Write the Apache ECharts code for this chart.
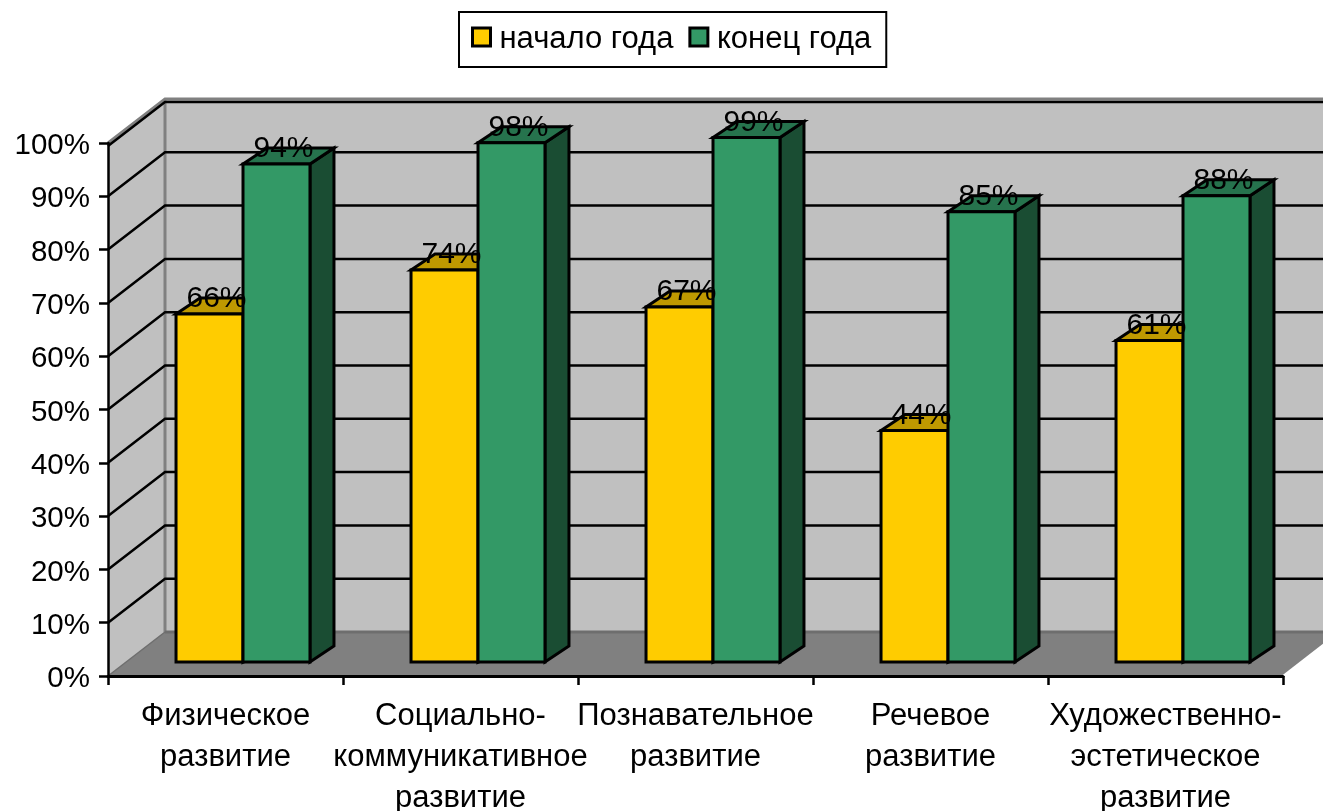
<!DOCTYPE html>
<html>
<head>
    <meta charset="utf-8">
    <title>ECharts</title>
    <script src="https://cdn.jsdelivr.net/npm/echarts/dist/echarts.min.js"></script>
    <style>html, body { margin: 0; padding: 0; background: #fff; }</style>
</head>
<body>
    <div id="main" style="width: 1323px;height:811px;"></div>
    <script>
        var categories = ['Физическое\nразвитие', 'Социально-\nкоммуникативное\nразвитие', 'Познавательное\nразвитие', 'Речевое\nразвитие', 'Художественно-\nэстетическое\nразвитие'];
        var startValues = [65.7, 74, 67, 43.7, 60.7];
        var endValues = [94, 98, 99, 85, 88];
        var yTicks = [0, 10, 20, 30, 40, 50, 60, 70, 80, 90, 100];

        var FONT = '"Liberation Sans", Arial, sans-serif';
        var WALL_DX = 57, WALL_DY = -44;   // depth of the chart box
        var BAR_DX = 24, BAR_DY = -16;     // depth of a bar
        var BAR_BASE = -14;                // bars stand on the floor, behind the axis
        var BAR_SHIFT = 17.5;
        var BAR_SCALE = 0.994;

        var chartDom = document.getElementById('main');
        var myChart = echarts.init(chartDom);
        var option;

        function poly(points, fill, stroke, width) {
            return {
                type: 'polygon',
                shape: { points: points },
                style: { fill: fill, stroke: stroke || null, lineWidth: width || 0, lineJoin: 'miter' }
            };
        }

        // wall and floor of the box
        function renderBox(params, api) {
            var cs = params.coordSys;
            var x0 = cs.x, x1 = cs.x + cs.width;
            var top = api.coord([0, 100])[1], bottom = api.coord([0, 0])[1];
            var bx = x0 + WALL_DX, right = x1 + WALL_DX;
            var border = '#808080';
            return {
                type: 'group',
                children: [
                    poly([[bx, top + WALL_DY], [right, top + WALL_DY], [right, bottom + WALL_DY], [bx, bottom + WALL_DY]], '#c0c0c0'),
                    poly([[x0, top], [bx, top + WALL_DY], [bx, bottom + WALL_DY], [x0, bottom]], '#c0c0c0'),
                    poly([[x0, bottom], [bx, bottom + WALL_DY], [right, bottom + WALL_DY], [x1, bottom]], '#808080'),
                    { type: 'polyline', shape: { points: [[x0, top], [bx, top + WALL_DY], [right, top + WALL_DY]] }, style: { fill: null, stroke: border, lineWidth: 3 } },
                    { type: 'line', shape: { x1: bx, y1: top + WALL_DY, x2: bx, y2: bottom + WALL_DY }, style: { stroke: border, lineWidth: 3 } },
                    { type: 'line', shape: { x1: bx, y1: bottom + WALL_DY, x2: right, y2: bottom + WALL_DY }, style: { stroke: '#6e6e6e', lineWidth: 3 } },
                    { type: 'line', shape: { x1: x0, y1: bottom, x2: bx, y2: bottom + WALL_DY }, style: { stroke: '#6e6e6e', lineWidth: 1.5 } },
                    { type: 'line', shape: { x1: x1, y1: bottom, x2: right, y2: bottom + WALL_DY }, style: { stroke: '#fff', lineWidth: 2 } }
                ]
            };
        }

        // grid lines run along the side wall and then the back wall
        function renderGridLine(params, api) {
            var cs = params.coordSys;
            var tick = api.value(0);
            var y = api.coord([0, tick])[1];
            if (tick === 0) {
                return { type: 'group', children: [] };
            }
            var nudge = tick === 100 ? 3 : 0;   // top line sits just under the grey edge
            return {
                type: 'polyline',
                shape: { points: [[cs.x, y + nudge], [cs.x + WALL_DX, y + WALL_DY + nudge], [cs.x + cs.width + WALL_DX, y + WALL_DY + nudge]] },
                style: { fill: null, stroke: '#000', lineWidth: 2.5 }
            };
        }

        function barTop(api, idx, val) {
            var base = api.coord([idx, 0]);
            var p = api.coord([idx, val]);
            return {
                cx: base[0] + BAR_SHIFT,
                bottom: base[1] + BAR_BASE,
                top: base[1] + BAR_BASE - (base[1] - p[1]) * BAR_SCALE
            };
        }

        function makeBar(side, front, topFace, sideFace) {
            return function (params, api) {
                var idx = api.value(0);
                var g = barTop(api, idx, api.value(1));
                var w = api.size([1, 0])[0] * 0.285;
                var l = side < 0 ? g.cx - w : g.cx;
                var r = l + w;
                var line = 3;
                return {
                    type: 'group',
                    children: [
                        poly([[r, g.top], [r + BAR_DX, g.top + BAR_DY], [r + BAR_DX, g.bottom + BAR_DY], [r, g.bottom]], sideFace, '#000', line),
                        poly([[l, g.top], [l + BAR_DX, g.top + BAR_DY], [r + BAR_DX, g.top + BAR_DY], [r, g.top]], topFace, '#000', line),
                        poly([[l, g.top], [r, g.top], [r, g.bottom], [l, g.bottom]], front, '#000', line)
                    ]
                };
            };
        }

        function renderLabel(params, api) {
            var idx = api.value(0);
            var side = api.value(2);
            var g = barTop(api, idx, api.value(1));
            var w = api.size([1, 0])[0] * 0.285;
            return {
                type: 'text',
                style: {
                    x: g.cx + side * w / 2 + 7,
                    y: g.top - 15,
                    text: Math.round(api.value(1)) + '%',
                    fill: '#000',
                    font: '30px ' + FONT,
                    align: 'center',
                    verticalAlign: 'middle'
                }
            };
        }

        var startData = startValues.map(function (v, i) { return [i, v]; });
        var endData = endValues.map(function (v, i) { return [i, v]; });
        var labelData = startValues.map(function (v, i) { return [i, v, -1]; })
            .concat(endValues.map(function (v, i) { return [i, v, 1]; }));

        option = {
            animation: false,
            backgroundColor: '#fff',
            textStyle: { fontFamily: FONT },
            legend: {
                left: 459,
                top: 12,
                padding: [12, 15, 12, 12],
                itemGap: 15,
                itemWidth: 18,
                itemHeight: 18,
                borderColor: '#000',
                borderWidth: 2,
                formatter: '{t|{name}}',
                data: [
                    { name: 'начало года', icon: 'rect', itemStyle: { color: '#ffcc00', borderColor: '#000', borderWidth: 3 } },
                    { name: 'конец года', icon: 'rect', itemStyle: { color: '#339966', borderColor: '#000', borderWidth: 3 } }
                ],
                textStyle: {
                    padding: [0, 0, 0, 4],
                    rich: { t: { fontSize: 31, color: '#000', fontFamily: FONT, padding: [5, 0, 0, 0] } }
                }
            },
            grid: { left: 108, right: 40, top: 143, bottom: 135, outerBoundsMode: 'none' },
            xAxis: {
                type: 'category',
                data: categories,
                z: 6,
                axisLine: { lineStyle: { color: '#000', width: 3 } },
                axisTick: { show: true, length: 9, lineStyle: { color: '#000', width: 2.5 } },
                axisLabel: { interval: 0, margin: 20, fontSize: 31, lineHeight: 41, color: '#000', fontFamily: FONT, hideOverlap: false }
            },
            yAxis: {
                type: 'value',
                min: 0,
                max: 100,
                interval: 10,
                z: 6,
                axisLine: { show: true, lineStyle: { color: '#000', width: 2.5 } },
                axisTick: { show: true, length: 9, lineStyle: { color: '#000', width: 2.5 } },
                splitLine: { show: false },
                axisLabel: {
                    margin: 18,
                    formatter: '{t|{value}%}',
                    rich: { t: { fontSize: 29.5, color: '#000', fontFamily: FONT, padding: [6, 0, 0, 0] } }
                }
            },
            series: [
                { type: 'custom', z: 1, silent: true, renderItem: renderBox, data: [[0]], encode: { x: -1, y: -1 } },
                { type: 'custom', z: 2, silent: true, renderItem: renderGridLine, data: yTicks.map(function (t) { return [t]; }), encode: { x: -1, y: -1 } },
                { type: 'custom', z: 3, name: 'начало года', renderItem: makeBar(-1, '#ffcc00', '#bf9900', '#806600'), itemStyle: { color: '#ffcc00' }, data: startData, encode: { x: 0, y: 1 } },
                { type: 'custom', z: 4, name: 'конец года', renderItem: makeBar(1, '#339966', '#26734d', '#1a4d33'), itemStyle: { color: '#339966' }, data: endData, encode: { x: 0, y: 1 } },
                { type: 'custom', z: 5, silent: true, renderItem: renderLabel, data: labelData, encode: { x: 0, y: 1 } }
            ]
        };

        option && myChart.setOption(option);
    </script>
</body>
</html>
